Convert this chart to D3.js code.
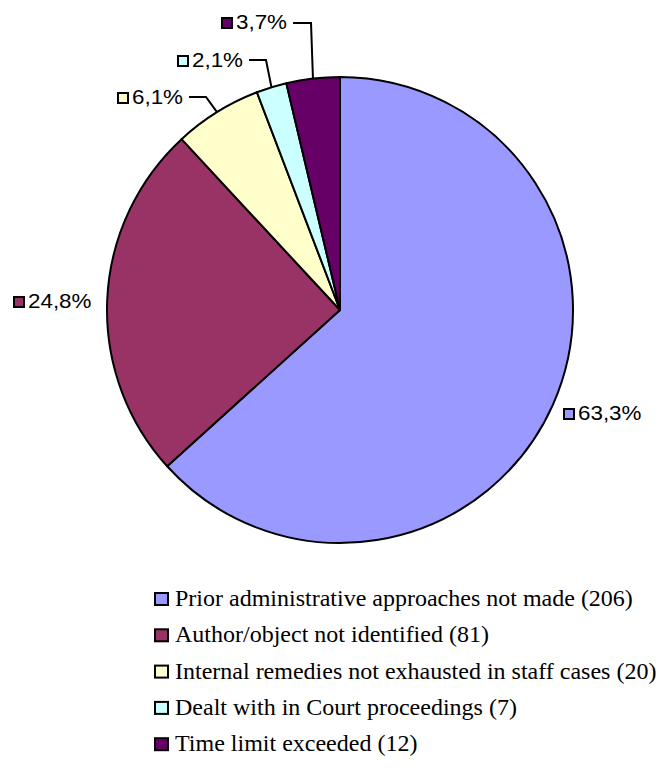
<!DOCTYPE html>
<html>
<head>
<meta charset="utf-8">
<script src="https://cdn.jsdelivr.net/npm/d3@7"></script>
<style>
  html, body { margin: 0; padding: 0; background: #fff; }
  svg { display: block; }
  .pct { font-family: 'Liberation Sans', Arial, Helvetica, sans-serif; }
  .leg { font-family: 'Liberation Serif', 'Times New Roman', Times, serif; }
</style>
</head>
<body>
<svg id="chart" width="662" height="772"></svg>
<script>
// ---- data ----
const categories = [
  "Prior administrative approaches not made",
  "Author/object not identified",
  "Internal remedies not exhausted in staff cases",
  "Dealt with in Court proceedings",
  "Time limit exceeded"
];
const counts = [206, 81, 20, 7, 12];
const percents = [63.3, 24.8, 6.1, 2.1, 3.7];
const colors = ["#9999FF", "#993366", "#FFFFCC", "#CCFFFF", "#660066"];

// ---- layout ----
const cx = 340, cy = 310, R = 233;
const sx = 1.12; // horizontal stretch of percent labels
// label anchor (box left x, text baseline y) and optional elbow for leader lines
const labelLayout = [
  { x: 564, y: 420, elbow: null },
  { x: 14,  y: 308, elbow: null },
  { x: 118, y: 104, elbow: [206, 97] },
  { x: 178, y: 67,  elbow: [266, 60] },
  { x: 222, y: 29,  elbow: [311, 23] }
];

const svg = d3.select("#chart");
const g = svg.append("g").attr("transform", `translate(${cx},${cy})`);

const pie = d3.pie().sort(null).value(d => d.v).startAngle(0).endAngle(2 * Math.PI);
const data = percents.map((v, i) => ({ v, i }));
const arcs = pie(data);
const arc = d3.arc().innerRadius(0).outerRadius(R);

g.selectAll("path.slice")
  .data(arcs)
  .join("path")
  .attr("class", "slice")
  .attr("d", arc)
  .attr("fill", d => colors[d.data.i])
  .attr("stroke", "#000")
  .attr("stroke-width", 2)
  .attr("stroke-linejoin", "round");

// labels
const fmt = v => v.toFixed(1).replace(".", ",") + "%";
const lab = svg.append("g");
arcs.forEach((a, k) => {
  const L = labelLayout[k];
  const i = a.data.i;
  lab.append("rect")
    .attr("x", L.x).attr("y", L.y - 11)
    .attr("width", 10).attr("height", 10)
    .attr("fill", colors[i]).attr("stroke", "#000").attr("stroke-width", 2);
  const t = lab.append("text")
    .attr("class", "pct")
    .attr("transform", `translate(${L.x + 14},${L.y}) scale(${sx},1)`)
    .style("font-size", "20px")
    .attr("fill", "#000")
    .text(fmt(a.data.v));
  if (L.elbow) {
    const mid = (a.startAngle + a.endAngle) / 2;
    const ex = cx + R * Math.sin(mid), ey = cy - R * Math.cos(mid);
    const tw = t.node().getComputedTextLength() * sx;
    const x0 = L.x + 14 + tw + 6;
    lab.append("polyline")
      .attr("points", `${x0},${L.elbow[1]} ${L.elbow[0]},${L.elbow[1]} ${ex},${ey}`)
      .attr("fill", "none").attr("stroke", "#000").attr("stroke-width", 2);
  }
});

// legend
const leg = svg.append("g");
categories.forEach((c, i) => {
  const by = 606 + i * 36.3;
  leg.append("rect")
    .attr("x", 155).attr("y", by - 13)
    .attr("width", 13).attr("height", 12)
    .attr("fill", colors[i]).attr("stroke", "#000").attr("stroke-width", 2);
  leg.append("text")
    .attr("class", "leg")
    .attr("x", 175).attr("y", by)
    .style("font-size", "24px")
    .attr("fill", "#000")
    .text(`${c} (${counts[i]})`);
});
</script>
</body>
</html>
